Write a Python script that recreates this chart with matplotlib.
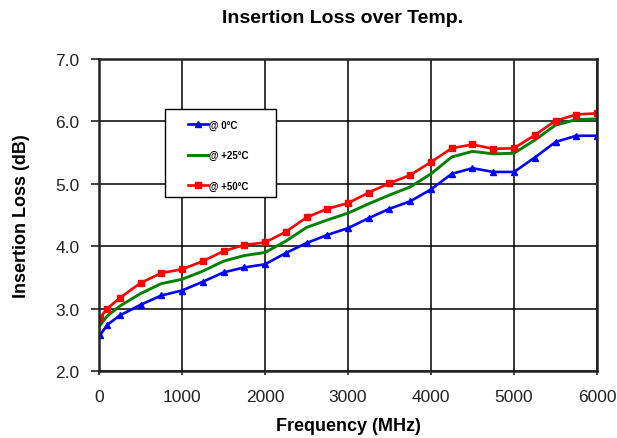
import matplotlib
matplotlib.use("Agg")
import matplotlib.pyplot as plt
from matplotlib.patches import Rectangle

plt.rcParams["font.family"] = ["Liberation Sans", "DejaVu Sans"]

# frequency points (MHz)
freq = [10, 100, 250, 500, 750, 1000, 1250, 1500, 1750, 2000, 2250, 2500, 2750,
        3000, 3250, 3500, 3750, 4000, 4250, 4500, 4750, 5000, 5250, 5500, 5750, 6000]

# insertion loss (dB) per temperature
loss_0c = [2.57, 2.74, 2.89, 3.06, 3.21, 3.29, 3.43, 3.58, 3.66, 3.71, 3.89, 4.05, 4.18,
           4.29, 4.45, 4.60, 4.72, 4.91, 5.16, 5.25, 5.19, 5.19, 5.42, 5.67, 5.77, 5.77]
loss_25c = [2.73, 2.88, 3.04, 3.24, 3.40, 3.47, 3.60, 3.76, 3.85, 3.90, 4.08, 4.30, 4.42,
            4.53, 4.68, 4.82, 4.95, 5.16, 5.43, 5.52, 5.48, 5.49, 5.70, 5.94, 6.03, 6.04]
loss_50c = [2.85, 3.00, 3.17, 3.41, 3.57, 3.63, 3.76, 3.92, 4.02, 4.06, 4.23, 4.46, 4.60,
            4.69, 4.86, 5.01, 5.14, 5.35, 5.57, 5.63, 5.56, 5.57, 5.78, 6.01, 6.11, 6.13]

labels = ["@ 0°C", "@ +25°C", "@ +50°C"]

fig = plt.figure(figsize=(6.17, 4.39), dpi=100)
ax = fig.add_axes([99 / 617, 1 - 372 / 439, 498 / 617, 312 / 439])

ax.plot(freq, loss_0c, color="#0000ff", lw=1.9, marker="^", ms=5, label=labels[0])
ax.plot(freq, loss_25c, color="#008000", lw=2.1, label=labels[1])
ax.plot(freq, loss_50c, color="#ff0000", lw=1.9, marker="s", ms=5, label=labels[2])

ax.set_xlim(0, 6000)
ax.set_ylim(2.0, 7.0)
ax.set_xticks(range(0, 6001, 1000))
ax.set_yticks([2.0, 3.0, 4.0, 5.0, 6.0, 7.0])
ax.set_yticklabels([f"{v:.1f}" for v in [2.0, 3.0, 4.0, 5.0, 6.0, 7.0]])
ax.grid(True, color="black", lw=1.1)
ax.set_axisbelow(True)
for s in ax.spines.values():
    s.set_linewidth(1.8)
    s.set_color("#222222")
ax.tick_params(axis="both", direction="out", length=6, width=1.2,
               labelsize=12.5, colors="#222222")
ax.tick_params(axis="y", pad=8)
ax.tick_params(axis="x", length=3, pad=10)

ax.set_xlabel("Frequency (MHz)", fontsize=13, fontweight="bold", labelpad=9)
ax.set_ylabel("Insertion Loss (dB)", fontsize=13, fontweight="bold", labelpad=18)
fig.text(0.555, 0.958, "Insertion Loss over Temp.", ha="center", va="center",
         fontsize=14, fontweight="bold")

# legend box drawn separately so its size matches the original
ax.add_patch(Rectangle((0.133, 0.558), 0.222, 0.282, transform=ax.transAxes,
                       facecolor="white", edgecolor="black", lw=1.0, zorder=5))
leg = ax.legend(loc="upper left", bbox_to_anchor=(0.179, 0.805),
                prop={"size": 7, "weight": "bold"}, handlelength=2.0,
                labelspacing=2.1, borderpad=0, handletextpad=0.15,
                borderaxespad=0, frameon=False)
leg.set_zorder(6)

fig.savefig("out.png", dpi=100)
